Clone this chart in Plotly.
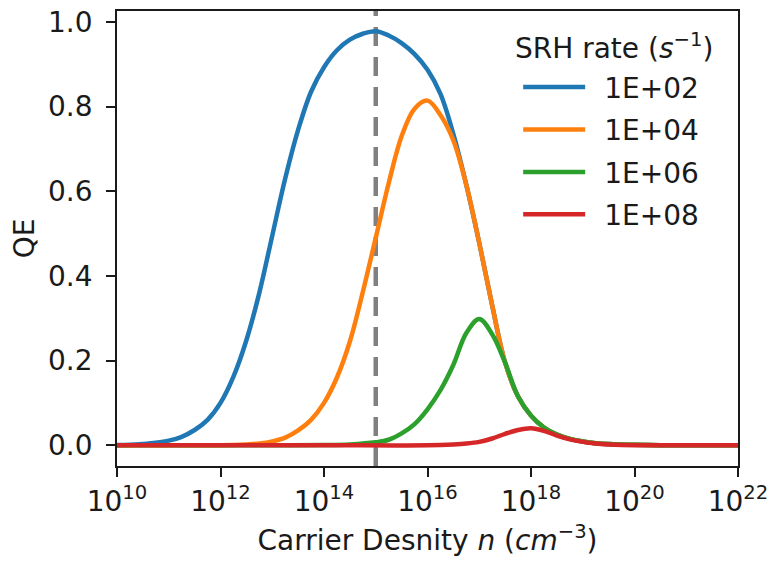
import numpy as np
import plotly.graph_objects as go

# ---- data ----
series_names = ["1E+02", "1E+04", "1E+06", "1E+08"]
series_colors = ["#1f77b4", "#ff7f0e", "#2ca02c", "#d62728"]
legend_title = "SRH rate (<i>s</i><sup>−1</sup>)"

# log10 of carrier density and QE for each SRH rate
logn_1e2 = [10.0, 10.25, 10.5, 10.75, 11.0, 11.25, 11.5, 11.75, 12.0, 12.25, 12.5, 12.75, 13.0,
            13.25, 13.5, 13.75, 14.0, 14.25, 14.5, 14.75, 15.0, 15.25, 15.5, 15.75, 16.0, 16.25,
            16.5, 16.75, 17.0, 17.25, 17.5, 17.75, 18.0, 18.25, 18.5, 18.75, 19.0, 19.25, 19.5,
            20.0, 20.5, 21.0, 22.0]
qe_1e2 = [0.0005, 0.001, 0.003, 0.006, 0.011, 0.02, 0.036, 0.06, 0.10, 0.162, 0.248, 0.36, 0.495,
          0.63, 0.745, 0.835, 0.893, 0.933, 0.958, 0.972, 0.978, 0.968, 0.95, 0.924, 0.887, 0.83,
          0.735, 0.615, 0.478, 0.33, 0.195, 0.115, 0.07, 0.042, 0.025, 0.015, 0.009, 0.005, 0.003,
          0.001, 0.0, 0.0, 0.0]

logn_1e4 = [10.0, 11.0, 12.0, 12.5, 12.75, 13.0, 13.25, 13.5, 13.75, 14.0, 14.25, 14.5, 14.75,
            15.0, 15.25, 15.5, 15.75, 16.0, 16.25, 16.5, 16.75, 17.0, 17.25, 17.5, 17.75, 18.0,
            18.25, 18.5, 18.75, 19.0, 19.25, 19.5, 20.0, 20.5, 21.0, 22.0]
qe_1e4 = [0.0, 0.0, 0.0, 0.002, 0.004, 0.009, 0.018, 0.035, 0.060, 0.10, 0.16, 0.245, 0.362,
          0.49, 0.619, 0.73, 0.795, 0.814, 0.78, 0.72, 0.615, 0.478, 0.33, 0.195, 0.115, 0.07,
          0.042, 0.025, 0.015, 0.009, 0.005, 0.003, 0.001, 0.0, 0.0, 0.0]

logn_1e6 = [10.0, 12.0, 13.0, 14.0, 14.5, 15.0, 15.25, 15.5, 15.75, 16.0, 16.25, 16.5, 16.75,
            17.0, 17.25, 17.5, 17.75, 18.0, 18.25, 18.5, 18.75, 19.0, 19.25, 19.5, 20.0, 20.5,
            21.0, 22.0]
qe_1e6 = [0.0, 0.0, 0.0, 0.0005, 0.002, 0.007, 0.013, 0.028, 0.05, 0.085, 0.13, 0.19, 0.265,
          0.298, 0.262, 0.195, 0.115, 0.07, 0.042, 0.025, 0.015, 0.009, 0.005, 0.003, 0.001, 0.0,
          0.0, 0.0]

logn_1e8 = [10.0, 12.0, 14.0, 16.0, 16.5, 16.75, 17.0, 17.25, 17.5, 17.75, 18.0, 18.25, 18.5,
            18.75, 19.0, 19.25, 19.5, 20.0, 21.0, 22.0]
qe_1e8 = [0.0, 0.0, 0.0, 0.0, 0.002, 0.004, 0.008, 0.016, 0.027, 0.036, 0.040, 0.034, 0.023,
          0.014, 0.008, 0.004, 0.002, 0.0, 0.0, 0.0]

marker_density = 1e15  # vertical dashed reference line

x_tick_exponents = [10, 12, 14, 16, 18, 20, 22]
y_tick_values = [0.0, 0.2, 0.4, 0.6, 0.8, 1.0]

all_logn = [logn_1e2, logn_1e4, logn_1e6, logn_1e8]
all_qe = [qe_1e2, qe_1e4, qe_1e6, qe_1e8]

FONT = "DejaVu Sans"
FS = 28
INK = "#1a1a1a"

fig = go.Figure()
for i, (name, col, ln, q) in enumerate(zip(series_names, series_colors, all_logn, all_qe)):
    fig.add_trace(go.Scatter(
        x=10 ** np.array(ln), y=q, mode="lines", name="\u2002" + name,
        line=dict(color=col, width=4.5, shape="spline", smoothing=1.0),
        legendgroup=f"g{i}",
    ))

fig.add_shape(type="line", xref="x", yref="paper",
              x0=marker_density, x1=marker_density, y0=0, y1=1,
              line=dict(color="#808080", width=4.5, dash="19px,11px"), layer="below")

fig.add_annotation(text=legend_title, xref="paper", yref="paper",
                   x=0.638, y=0.922, xanchor="left", yanchor="middle", showarrow=False,
                   font=dict(family=FONT, size=FS, color=INK))

fig.update_layout(
    width=774, height=561,
    margin=dict(l=117, r=33, t=6, b=95),
    paper_bgcolor="white", plot_bgcolor="white",
    font=dict(family=FONT, size=FS, color=INK),
    showlegend=True,
    legend=dict(
        x=0.646, y=0.887, xanchor="left", yanchor="top",
        bgcolor="rgba(255,255,255,0)", borderwidth=0,
        font=dict(family=FONT, size=FS, color=INK),
        itemwidth=62, tracegroupgap=3,
    ),
)

fig.update_xaxes(
    type="log", range=[x_tick_exponents[0], x_tick_exponents[-1]],
    tickvals=[10.0 ** e for e in x_tick_exponents],
    ticktext=[f"10<sup>{e}</sup>" for e in x_tick_exponents],
    ticks="outside", ticklen=9, tickwidth=1.8, tickcolor=INK,
    showline=True, linecolor=INK, linewidth=1.8, mirror=True,
    showgrid=False, zeroline=False,
    tickfont=dict(family=FONT, size=FS),
    title=dict(text="Carrier Desnity <i>n</i> (<i>cm</i><sup>−3</sup>)",
               font=dict(family=FONT, size=FS), standoff=14),
)
fig.update_yaxes(
    range=[-0.049, 1.0257],
    tickvals=y_tick_values, tickformat=".1f",
    ticks="outside", ticklen=9, tickwidth=1.8, tickcolor=INK,
    showline=True, linecolor=INK, linewidth=1.8, mirror=True,
    showgrid=False, zeroline=False,
    tickfont=dict(family=FONT, size=FS),
    ticklabelstandoff=8,
    title=dict(text="QE", font=dict(family=FONT, size=FS), standoff=5),
)

fig.write_html("out.html")
